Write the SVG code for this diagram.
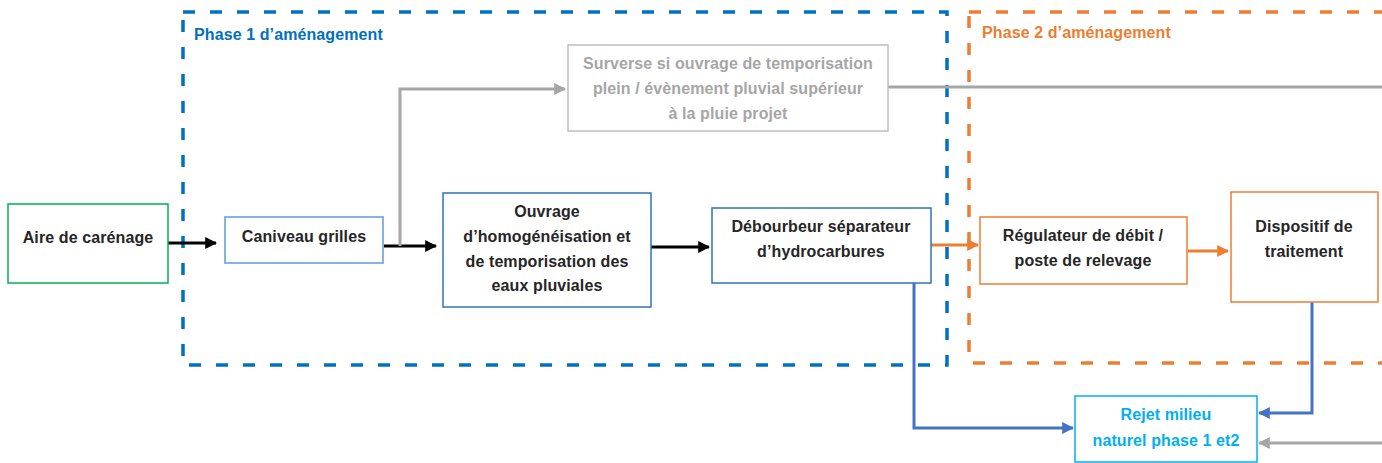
<svg xmlns="http://www.w3.org/2000/svg" width="1382" height="463" viewBox="0 0 1382 463">
<style>
text{font-family:"Liberation Sans",Arial,sans-serif;font-weight:bold;font-size:16px;letter-spacing:0.1px;text-anchor:middle;fill:#262626}
.box{fill:#fff;stroke-width:1.5}
.lbl{text-anchor:start;font-size:16px}
.c{fill:none;stroke-width:3}
</style>
<defs>
<marker id="ak" viewBox="0 0 10 10" refX="9" refY="5" markerWidth="4" markerHeight="4" orient="auto" markerUnits="strokeWidth"><path d="M0,0L10,5L0,10z" fill="#000"/></marker>
<marker id="ag" viewBox="0 0 10 10" refX="9" refY="5" markerWidth="4" markerHeight="4" orient="auto" markerUnits="strokeWidth"><path d="M0,0L10,5L0,10z" fill="#a6a6a6"/></marker>
<marker id="ao" viewBox="0 0 10 10" refX="9" refY="5" markerWidth="4" markerHeight="4" orient="auto" markerUnits="strokeWidth"><path d="M0,0L10,5L0,10z" fill="#ed7d31"/></marker>
<marker id="ab" viewBox="0 0 10 10" refX="9" refY="5" markerWidth="4" markerHeight="4" orient="auto" markerUnits="strokeWidth"><path d="M0,0L10,5L0,10z" fill="#4472c4"/></marker>
</defs>
<rect width="1382" height="463" fill="#fff"/>
<g id="phase1">
<rect x="183" y="12" width="764" height="353" fill="none" stroke="#0070c0" stroke-width="3.5" stroke-dasharray="12 15"/>
<text class="lbl" x="194" y="40" style="fill:#0070c0">Phase 1 d’aménagement</text>
</g>
<g id="phase2">
<rect x="969" y="12" width="440" height="351" fill="none" stroke="#ed7d31" stroke-width="3.5" stroke-dasharray="12 15"/>
<text class="lbl" x="982" y="38" style="fill:#ed7d31">Phase 2 d’aménagement</text>
</g>
<g id="connectors">
<path class="c" d="M166,243H216" stroke="#000" marker-end="url(#ak)"/>
<path class="c" d="M384,246H436" stroke="#000" marker-end="url(#ak)"/>
<path class="c" d="M651,247H709" stroke="#000" marker-end="url(#ak)"/>
<path class="c" d="M400,246V89H565" stroke="#a6a6a6" marker-end="url(#ag)"/>
<path class="c" d="M888,87H1382" stroke="#a6a6a6"/>
<path class="c" d="M931,245H978" stroke="#ed7d31" marker-end="url(#ao)"/>
<path class="c" d="M1188,251H1228" stroke="#ed7d31" marker-end="url(#ao)"/>
<path class="c" d="M914,275V428H1073" stroke="#4472c4" marker-end="url(#ab)"/>
<path class="c" d="M1312,302V413H1259" stroke="#4472c4" marker-end="url(#ab)"/>
<path class="c" d="M1382,443H1259" stroke="#a6a6a6" marker-end="url(#ag)"/>
</g>
<g id="aire">
<rect class="box" x="8" y="204" width="160" height="79" stroke="#00b050"/>
<text x="88" y="243">Aire de carénage</text>
</g>
<g id="caniveau">
<rect class="box" x="225" y="217" width="158" height="46" stroke="#5b9bd5"/>
<text x="304" y="242">Caniveau grilles</text>
</g>
<g id="ouvrage">
<rect class="box" x="443" y="193" width="208" height="114" stroke="#2e75b6"/>
<text x="547" y="217">Ouvrage</text>
<text x="547" y="242">d’homogénéisation et</text>
<text x="547" y="267">de temporisation des</text>
<text x="547" y="291">eaux pluviales</text>
</g>
<g id="surverse">
<rect class="box" x="568" y="45" width="320" height="86" stroke="#bfbfbf"/>
<text x="728" y="69" style="fill:#a6a6a6">Surverse si ouvrage de temporisation</text>
<text x="728" y="94" style="fill:#a6a6a6">plein / évènement pluvial supérieur</text>
<text x="728" y="119" style="fill:#a6a6a6">à la pluie projet</text>
</g>
<g id="debourbeur">
<rect class="box" x="712" y="208" width="219" height="75" stroke="#2e75b6"/>
<text x="821" y="232">Débourbeur séparateur</text>
<text x="821" y="257">d’hydrocarbures</text>
</g>
<g id="regulateur">
<rect class="box" x="980" y="217" width="207" height="67" stroke="#ed7d31"/>
<text x="1083" y="241">Régulateur de débit /</text>
<text x="1083" y="266">poste de relevage</text>
</g>
<g id="dispositif">
<rect class="box" x="1231" y="192" width="147" height="110" stroke="#ed7d31"/>
<text x="1304" y="232">Dispositif de</text>
<text x="1304" y="257">traitement</text>
</g>
<g id="rejet">
<rect class="box" x="1075" y="396" width="182" height="66" stroke="#00b0f0"/>
<text x="1166" y="420" style="fill:#00b0f0">Rejet milieu</text>
<text x="1166" y="446" style="fill:#00b0f0">naturel phase 1 et2</text>
</g>
</svg>
